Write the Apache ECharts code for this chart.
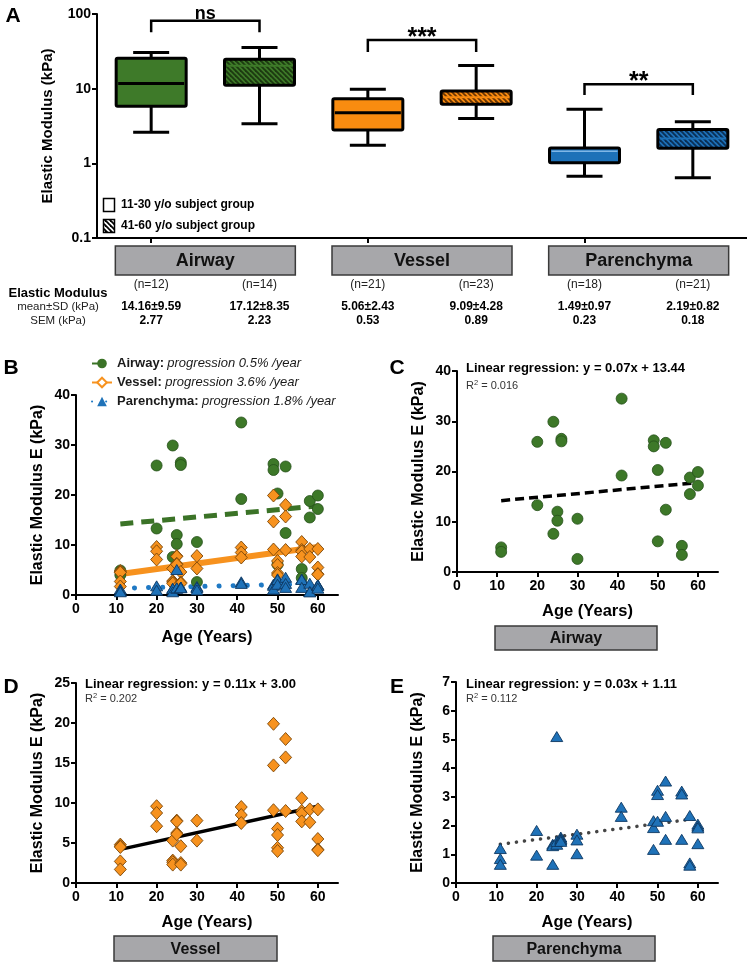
<!DOCTYPE html>
<html><head><meta charset="utf-8">
<script src="https://cdn.jsdelivr.net/npm/echarts@6/dist/echarts.min.js"></script>
<style>html,body{margin:0;padding:0;background:#fff}#c{width:747px;height:962px}</style>
</head><body><div id="c"></div>
<script>
// ---------- DATA ----------
const groups = ['Airway 11-30','Airway 41-60','Vessel 11-30','Vessel 41-60','Parenchyma 11-30','Parenchyma 41-60'];
const tissueNames = ['Airway','Vessel','Parenchyma'];
const boxMin    = [2.6, 3.4, 1.75, 4.0, 0.67, 0.64];
const boxQ1     = [5.8, 11.1, 2.8, 6.2, 1.02, 1.59];
const boxMedian = [11.7, 20.2, 4.75, 7.7, 1.45, 2.15];
const boxQ3     = [25.6, 24.8, 7.3, 9.3, 1.6, 2.84];
const boxMax    = [30.5, 35.6, 9.8, 20.4, 5.3, 3.6];
const logTicks  = [0.1, 1, 10, 100];
const sigLeft   = [0, 2, 4];
const sigRight  = [1, 3, 5];
const sigTop    = [81, 44.8, 11.5];
const sigTip    = [56.8, 30.9, 8.2];
const sigLabel  = ['ns', '***', '**'];
const sampleN   = ['(n=12)','(n=14)','(n=21)','(n=23)','(n=18)','(n=21)'];
const meanSD    = ['14.16±9.59','17.12±8.35','5.06±2.43','9.09±4.28','1.49±0.97','2.19±0.82'];
const semVals   = ['2.77','2.23','0.53','0.89','0.23','0.18'];
const ageTicks  = [0, 10, 20, 30, 40, 50, 60];

const airwayAge = [11,11,20,20,24,24,25,25,26,26,30,30,41,41,49,49,50,50,52,52,56,56,58,58,60,60];
const airwayE   = [4.9,4.0,25.9,13.3,29.9,7.6,12.0,10.2,26.5,26.0,10.6,2.6,34.5,19.2,26.2,25.0,20.3,6.1,25.7,12.4,5.2,3.4,18.8,15.5,19.9,17.2];
const vesselAge = [11,11,11,11,11,20,20,20,24,24,24,24,25,25,25,25,26,26,26,30,30,41,41,41,49,49,49,50,50,50,50,52,52,52,56,56,56,56,58,58,60,60,60,60];
const vesselE   = [4.8,4.6,4.5,2.7,1.7,9.6,8.75,7.1,5.3,2.8,2.6,2.3,7.8,7.7,6.25,6.1,4.6,2.5,2.3,7.8,5.3,9.5,8.5,7.5,19.9,14.7,9.1,6.8,6.0,4.4,4.0,18.0,15.7,9.0,10.6,9.0,8.7,7.7,9.2,7.6,9.2,5.5,4.2,4.1];
const parenAge  = [11,11,11,20,20,24,24,24,25,25,25,26,26,26,26,30,30,30,41,41,49,49,49,50,50,50,52,52,52,56,56,56,58,58,58,60,60,60,60];
const parenE    = [1.2,0.85,0.65,1.83,0.97,1.35,1.3,0.65,5.1,1.35,1.45,1.6,1.55,1.5,1.45,1.7,1.5,1.02,2.64,2.32,2.17,1.93,1.17,3.23,3.08,2.15,3.55,2.32,1.52,3.2,3.1,1.52,2.35,0.7,0.62,2.05,1.98,1.92,1.37];

const fitAge       = [11, 60];
const airwayFit    = [14.2, 17.8];
const vesselFit    = [4.2, 9.6];
const parenFit     = [1.35, 2.25];
const progression  = ['0.5', '3.6', '1.8'];
const regText      = ['y = 0.07x + 13.44', 'y = 0.11x + 3.00', 'y = 0.03x + 1.11'];
const r2Text       = ['0.016', '0.202', '0.112'];

// ---------- STYLE ----------
const FONT = "'Liberation Sans', Arial, Helvetica, sans-serif";
const GREEN = '#3e7a29', ORANGE = '#f98c10', BLUE = '#1d71b8';
const baseColors = [GREEN, ORANGE, BLUE];
const stripeColors = ['#1c3a10', '#6a3604', '#0a2f55'];

function makeHatch(base, stripe) {
  const s = 5, c = document.createElement('canvas');
  c.width = s; c.height = s;
  const g = c.getContext('2d');
  g.fillStyle = base; g.fillRect(0, 0, s, s);
  g.strokeStyle = stripe; g.lineWidth = 1.8;
  for (const k of [-1, 0, 1]) { g.beginPath(); g.moveTo(k*s - 1, -1); g.lineTo(k*s + s + 1, s + 1); g.stroke(); }
  return c;
}
const hatchFill = baseColors.map((b, i) => ({ image: makeHatch(b, stripeColors[i]), repeat: 'repeat' }));
const legendHatch = { image: makeHatch('#ffffff', '#000000'), repeat: 'repeat' };

const pairs = (xs, ys) => xs.map((x, i) => [x, ys[i]]);

const chart = echarts.init(document.getElementById('c'), null, { renderer: 'canvas', width: 747, height: 962 });

const axisLineStyle = { show: true, lineStyle: { color: '#000', width: 2 } };
const tickStyle = { show: true, length: 5, lineStyle: { color: '#000', width: 2 } };
const tickLabel = { color: '#000', fontFamily: FONT, fontWeight: 'bold', fontSize: 14 };

const scatterGrids = [
  { left: 76, top: 395, width: 262, height: 200 },      // B
  { left: 457, top: 371, width: 261, height: 201 },     // C
  { left: 76, top: 683, width: 262, height: 200 },      // D
  { left: 456, top: 682, width: 262, height: 201 }      // E
];
const yMaxes = [40, 40, 25, 7];
const yIntervals = [10, 10, 5, 1];
const xNameGaps = [34, 31, 31, 31];

const grids = [{ left: 97, right: 0, top: 14, height: 224 }].concat(scatterGrids);

const xAxes = [{
  type: 'category', gridIndex: 0, data: groups, boundaryGap: true,
  axisLine: axisLineStyle, axisTick: Object.assign({ alignWithLabel: true }, tickStyle),
  axisLabel: { show: false }, splitLine: { show: false }
}];
const yAxes = [{
  type: 'log', logBase: 10, gridIndex: 0, min: 0.1, max: 100,
  axisLine: axisLineStyle, axisTick: tickStyle,
  axisLabel: Object.assign({ fontSize: 15, margin: 6, formatter: v => String(+v.toPrecision(3)) }, tickLabel),
  splitLine: { show: false }, minorTick: { show: false },
  name: 'Elastic Modulus (kPa)', nameLocation: 'middle', nameGap: 42,
  nameTextStyle: { fontFamily: FONT, fontWeight: 'bold', fontSize: 15, color: '#000' }
}];
scatterGrids.forEach((g, k) => {
  xAxes.push({
    type: 'value', gridIndex: k + 1, min: 0, max: 65, interval: 10,
    axisLine: axisLineStyle,
    axisTick: Object.assign({ customValues: ageTicks }, tickStyle),
    axisLabel: Object.assign({ customValues: ageTicks, margin: 7 }, tickLabel),
    splitLine: { show: false },
    name: 'Age (Years)', nameLocation: 'middle', nameGap: xNameGaps[k],
    nameTextStyle: { fontFamily: FONT, fontWeight: 'bold', fontSize: 16.5, color: '#000' }
  });
  yAxes.push({
    type: 'value', gridIndex: k + 1, min: 0, max: yMaxes[k], interval: yIntervals[k],
    axisLine: axisLineStyle, axisTick: tickStyle,
    axisLabel: Object.assign({ margin: 6 }, tickLabel),
    splitLine: { show: false },
    name: 'Elastic Modulus E (kPa)', nameLocation: 'middle', nameGap: 30,
    nameTextStyle: { fontFamily: FONT, fontWeight: 'bold', fontSize: 16, color: '#000' }
  });
});

function renderBox(params, api) {
  const i = api.value(0);
  const cx = api.coord([i, 1])[0];
  const y = k => api.coord([i, api.value(k)])[1];
  const yMin = y(1), yQ1 = y(2), yMed = y(3), yQ3 = y(4), yMax = y(5);
  const hw = 35, cw = 18, lw = 3;
  const t = Math.floor(i / 2), hatched = i % 2 === 1;
  const fill = hatched ? hatchFill[t] : baseColors[t];
  let medStroke = '#000', medW = 3;
  if (hatched) { medStroke = baseColors[t]; medW = 2; }
  if (i === 4) { medStroke = '#7fb6e6'; medW = 1.5; }
  const ln = (x1, y1, x2, y2, st, w) => ({ type: 'line', shape: { x1, y1, x2, y2 }, style: { stroke: st, lineWidth: w } });
  return { type: 'group', children: [
    ln(cx, yMax, cx, yQ3, '#000', lw),
    ln(cx, yQ1, cx, yMin, '#000', lw),
    ln(cx - cw, yMax, cx + cw, yMax, '#000', lw),
    ln(cx - cw, yMin, cx + cw, yMin, '#000', lw),
    { type: 'rect', shape: { x: cx - hw, y: yQ3, width: 2 * hw, height: yQ1 - yQ3, r: 1.5 }, style: { fill: fill, stroke: '#000', lineWidth: lw } },
    ln(cx - hw + 2, yMed, cx + hw - 2, yMed, medStroke, medW)
  ]};
}

function renderSig(params, api) {
  const a = api.coord([api.value(0), api.value(2)]);
  const b = api.coord([api.value(1), api.value(2)]);
  const tipA = api.coord([api.value(0), api.value(3)]);
  const lbl = sigLabel[params.dataIndex];
  const star = lbl.indexOf('*') >= 0;
  return { type: 'group', children: [
    { type: 'polyline', shape: { points: [[a[0], tipA[1]], [a[0], a[1]], [b[0], a[1]], [b[0], tipA[1]]] },
      style: { stroke: '#000', lineWidth: 2.5, fill: null } },
    { type: 'text', style: { x: (a[0] + b[0]) / 2, y: a[1] - (star ? 2 : 7),
      text: lbl, fill: '#000', fontFamily: FONT, fontWeight: 'bold', fontSize: star ? 25 : 18,
      align: 'center', verticalAlign: 'middle' } }
  ]};
}

const boxData = groups.map((g, i) => [i, boxMin[i], boxQ1[i], boxMedian[i], boxQ3[i], boxMax[i]]);
const sigData = sigLeft.map((l, i) => [l, sigRight[i], sigTop[i], sigTip[i]]);

const circleStyle = { color: '#3d7828', borderColor: '#26501a', borderWidth: 0.8, opacity: 1 };
const diamondStyle = { color: '#f7921e', borderColor: '#7a4608', borderWidth: 0.9, opacity: 1 };
const triStyle = { color: '#1f72b8', borderColor: '#0d3762', borderWidth: 0.9, opacity: 1 };

function scatter(name, xi, age, e, symbol, size, style) {
  return { type: 'scatter', name, xAxisIndex: xi, yAxisIndex: xi, data: pairs(age, e), symbol, symbolSize: size, itemStyle: style, z: 3, silent: true };
}
function fitLine(name, xi, ys, lineStyle, extra) {
  return Object.assign({ type: 'line', name, xAxisIndex: xi, yAxisIndex: xi, data: pairs(fitAge, ys), showSymbol: false, lineStyle, z: 2, silent: true }, extra || {});
}

const CIRC = 11, DIAM = [12, 13], TRI = [12, 10];
const series = [
  { type: 'custom', name: 'boxes', xAxisIndex: 0, yAxisIndex: 0, renderItem: renderBox, data: boxData, silent: true,
    encode: { x: 0, y: [1, 2, 3, 4, 5] } },
  { type: 'custom', name: 'sig', xAxisIndex: 0, yAxisIndex: 0, renderItem: renderSig, data: sigData, silent: true,
    encode: { x: [0, 1], y: [2, 3] } },
  // B: regression lines (legend)
  fitLine('Airway', 1, airwayFit, { color: '#3b7327', width: 5, type: [13, 8] }, { symbol: 'circle', symbolSize: 9, itemStyle: { color: '#3b7327' } }),
  fitLine('Vessel', 1, vesselFit, { color: '#f7921e', width: 6 }, { symbol: 'emptyDiamond', symbolSize: 10, itemStyle: { color: '#f7921e', borderColor: '#c46a00' } }),
  fitLine('Parenchyma', 1, parenFit, { color: '#1f79c4', width: 5, type: [0.1, 14], cap: 'round' }, { symbol: 'triangle', symbolSize: 9, itemStyle: { color: '#1f72b8' } }),
  scatter('B airway', 1, airwayAge, airwayE, 'circle', CIRC, circleStyle),
  scatter('B vessel', 1, vesselAge, vesselE, 'diamond', DIAM, diamondStyle),
  scatter('B paren', 1, parenAge, parenE, 'triangle', TRI, triStyle),
  // C
  fitLine('C fit', 2, airwayFit, { color: '#000', width: 3.5, type: [9, 5] }),
  scatter('C airway', 2, airwayAge, airwayE, 'circle', CIRC, circleStyle),
  // D
  fitLine('D fit', 3, vesselFit, { color: '#000', width: 3.5 }),
  scatter('D vessel', 3, vesselAge, vesselE, 'diamond', DIAM, diamondStyle),
  // E
  fitLine('E fit', 4, parenFit, { color: '#444', width: 3.5, type: [0.1, 8], cap: 'round' }),
  scatter('E paren', 4, parenAge, parenE, 'triangle', TRI, triStyle)
];

chart.setOption({
  animation: false,
  backgroundColor: '#fff',
  textStyle: { fontFamily: FONT },
  grid: grids,
  xAxis: xAxes,
  yAxis: yAxes,
  legend: {
    data: tissueNames, orient: 'vertical', left: 86, top: 352, itemGap: 6, itemWidth: 20, itemHeight: 12,
    selectedMode: false,
    formatter: name => '{b|' + name + ':} {i|progression ' + progression[tissueNames.indexOf(name)] + '% /year}',
    textStyle: { rich: {
      b: { fontFamily: FONT, fontWeight: 'bold', fontSize: 13, color: '#1a1a1a' },
      i: { fontFamily: FONT, fontStyle: 'italic', fontSize: 13, color: '#1a1a1a' }
    } }
  },
  series
});

// ---------- annotations (text, label boxes) ----------
const centers = groups.map((g, i) => chart.convertToPixel({ xAxisIndex: 0 }, i));
const gfx = [];
const txt = (x, y, text, o) => gfx.push({ type: 'text', x, y, silent: true,
  style: Object.assign({ text, fill: '#000', fontFamily: FONT, fontSize: 12, align: 'center', verticalAlign: 'middle' }, o || {}) });
const labelBox = (cx, top, w, h, text, fs) => {
  gfx.push({ type: 'rect', shape: { x: cx - w / 2, y: top, width: w, height: h }, style: { fill: '#a7a7aa', stroke: '#3a3a3a', lineWidth: 1.5 }, silent: true });
  txt(cx, top + h / 2 + 1, text, { fontWeight: 'bold', fontSize: fs, fill: '#111' });
};
// panel letters
txt(13, 16, 'A', { fontWeight: 'bold', fontSize: 21 });
txt(11, 368, 'B', { fontWeight: 'bold', fontSize: 21 });
txt(397, 368, 'C', { fontWeight: 'bold', fontSize: 21 });
txt(11, 687, 'D', { fontWeight: 'bold', fontSize: 21 });
txt(397, 687, 'E', { fontWeight: 'bold', fontSize: 21 });

// panel A legend
gfx.push({ type: 'rect', shape: { x: 103.5, y: 198.5, width: 11, height: 13 }, style: { fill: '#fff', stroke: '#000', lineWidth: 1.5 }, silent: true });
gfx.push({ type: 'rect', shape: { x: 103.5, y: 219.5, width: 11, height: 13 }, style: { fill: legendHatch, stroke: '#000', lineWidth: 1.5 }, silent: true });
txt(121, 205, '11-30 y/o subject group', { align: 'left', fontWeight: 'bold', fontSize: 12 });
txt(121, 226, '41-60 y/o subject group', { align: 'left', fontWeight: 'bold', fontSize: 12 });

// panel A category boxes + table
for (let t = 0; t < 3; t++) {
  const cx = (centers[2 * t] + centers[2 * t + 1]) / 2;
  labelBox(cx, 246, 180, 29, tissueNames[t], 18);
}
txt(58, 293, 'Elastic Modulus', { fontWeight: 'bold', fontSize: 13 });
txt(58, 307, 'mean±SD (kPa)', { fontSize: 11.5, fill: '#222' });
txt(58, 321, 'SEM (kPa)', { fontSize: 11.5, fill: '#222' });
groups.forEach((g, i) => {
  txt(centers[i], 285, sampleN[i], { fontSize: 12, fill: '#222' });
  txt(centers[i], 307, meanSD[i], { fontWeight: 'bold', fontSize: 12 });
  txt(centers[i], 321, semVals[i], { fontWeight: 'bold', fontSize: 12 });
});

// regression annotations C, D, E
const regPos = [[466, 368, 386], [85, 684, 699], [466, 684, 699]];
regPos.forEach((p, k) => {
  txt(p[0], p[1], 'Linear regression: ' + regText[k], { align: 'left', fontWeight: 'bold', fontSize: 13 });
  gfx.push({ type: 'text', x: p[0], y: p[2], silent: true, style: {
    text: '{r|R}{s|2}{r| = ' + r2Text[k] + '}', align: 'left', verticalAlign: 'middle',
    rich: { r: { fontFamily: FONT, fontSize: 11, fill: '#333' }, s: { fontFamily: FONT, fontSize: 7.5, fill: '#333', verticalAlign: 'top', padding: [0, 0, 6, 0] } } } });
});
// label boxes under C, D, E
labelBox(576, 626, 162, 24, 'Airway', 16);
labelBox(195.5, 936, 163, 25, 'Vessel', 16);
labelBox(574, 936, 162, 25, 'Parenchyma', 16);

chart.setOption({ graphic: { elements: gfx } });
</script>
</body></html>
